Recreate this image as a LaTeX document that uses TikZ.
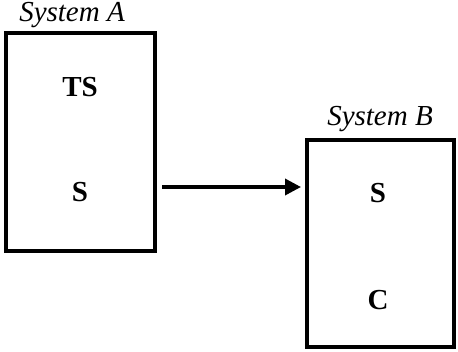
\documentclass[tikz,border=0pt]{standalone}
\usepackage{fontspec}
\setmainfont{Liberation Serif}
\usetikzlibrary{arrows.meta}
\begin{document}
\begin{tikzpicture}[x=1pt,y=-1pt,
  sysbox/.style={draw=black,line width=4.5pt,inner sep=0pt},
  lbl/.style={font=\fontsize{29}{34}\selectfont\bfseries,inner sep=0pt},
  title/.style={font=\fontsize{29}{34}\selectfont\itshape,inner sep=0pt},
  conn/.style={line width=3.5pt,-{Triangle[length=16pt,width=16pt]}}]
\useasboundingbox (0,0) rectangle (458,351);
\node[sysbox,minimum width=149pt,minimum height=218pt] (A) at (80.5,142) {};
\node[sysbox,minimum width=147pt,minimum height=207pt] (B) at (380.5,243.5) {};
\node[title] (tA) at (72,15) {System A};
\node[title] (tB) at (380,119) {System B};
\node[lbl] (ts) at (80,87) {TS};
\node[lbl] (sA) at (80,192) {S};
\node[lbl] (sB) at (378,193) {S};
\node[lbl] (c) at (378,300) {C};
\coordinate (s) at (162,187);
\coordinate (e) at (301,187);
\draw[conn] (s) -- (e);
\end{tikzpicture}
\end{document}
